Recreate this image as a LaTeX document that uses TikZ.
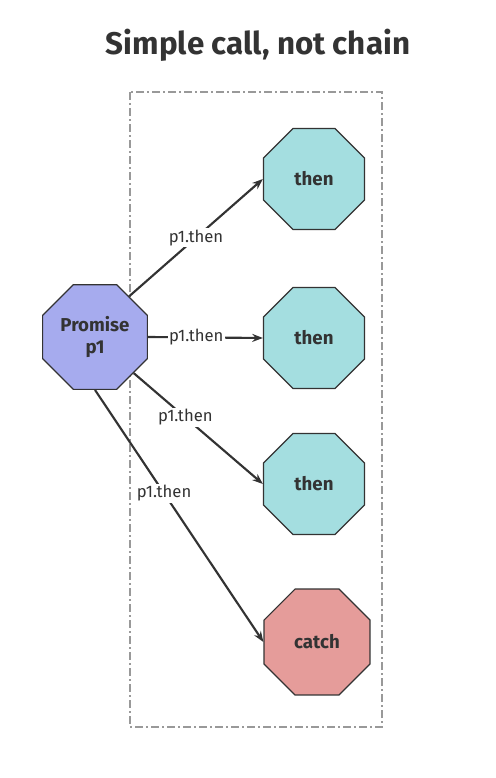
\documentclass[tikz,border=0pt]{standalone}
\usepackage{fontspec}
\setmainfont{Fira Sans}
\usetikzlibrary{shapes.geometric,arrows.meta}

\definecolor{thencol}{HTML}{A4DEE0}
\definecolor{promcol}{HTML}{A6ABEE}
\definecolor{catchcol}{HTML}{E59C9A}
\definecolor{inkcol}{HTML}{333333}

\tikzset{
  octa/.style={regular polygon, regular polygon sides=8, draw=inkcol, line width=0.9pt,
    inner sep=0pt, minimum size=82pt, font=\fontsize{14}{16}\selectfont\bfseries, text=inkcol, align=center},
  call/.style={-{Stealth[length=8pt,width=6pt]}, line width=1.6pt, draw=inkcol},
  calllabel/.style={fill=white, inner sep=1pt, font=\fontsize{12.5}{14}\selectfont, text=inkcol}
}

\begin{document}
\begin{tikzpicture}[x=0.75pt, y=-0.75pt]
\useasboundingbox (0,0) rectangle (496,778);
\node[font=\fontsize{23.5}{26}\selectfont\bfseries, text=inkcol] (title) at (258,45) {Simple call, not chain};
\draw[gray!80, line width=1.1pt, dash pattern=on 6pt off 2.5pt on 1pt off 2.5pt] (130,92) rectangle (382,727);
\node[octa, fill=promcol, minimum size=85pt] (p1) at (95,337) {Promise\\p1};
\node[octa, fill=thencol] (t1) at (314,179) {then};
\node[octa, fill=thencol] (t2) at (314,338) {then};
\node[octa, fill=thencol] (t3) at (314,484) {then};
\node[octa, fill=catchcol, minimum size=86pt] (c1) at (317,642) {catch};
% calls on p1
\draw[call] (p1.50) -- node[calllabel, pos=0.5] {p1.then} (t1.west);
\draw[call] (p1.east) -- node[calllabel, pos=0.42] {p1.then} (t2.west);
\draw[call] (p1.-43) -- node[calllabel, pos=0.4] {p1.then} (t3.west);
\draw[call] (p1.south) -- node[calllabel, pos=0.41] {p1.then} (c1.west);
\end{tikzpicture}
\end{document}
